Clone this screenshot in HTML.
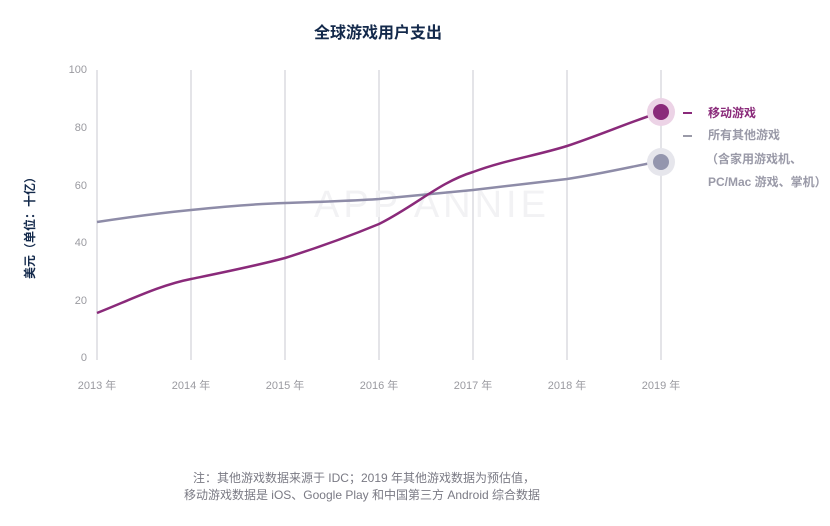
<!DOCTYPE html>
<html><head><meta charset="utf-8"><style>
body{margin:0;background:#fff;width:830px;height:521px;overflow:hidden;font-family:"Liberation Sans","Noto Sans CJK SC",sans-serif}
</style></head><body>
<svg width="830" height="521" xmlns="http://www.w3.org/2000/svg" style="font-family:'Liberation Sans','Noto Sans CJK SC',sans-serif">
<text x="378" y="38" text-anchor="middle" font-size="16" font-weight="bold" fill="#13294b">全球游戏用户支出</text>
<g stroke="#dcdce0" stroke-width="1.5">
<line x1="97" y1="70" x2="97" y2="360"/><line x1="191" y1="70" x2="191" y2="360"/><line x1="285" y1="70" x2="285" y2="360"/><line x1="379" y1="70" x2="379" y2="360"/><line x1="473" y1="70" x2="473" y2="360"/><line x1="567" y1="70" x2="567" y2="360"/><line x1="661" y1="70" x2="661" y2="360"/>
</g>
<g font-size="11" fill="#9a9aa0" text-anchor="end">
<text x="87" y="73">100</text><text x="87" y="131">80</text><text x="87" y="189">60</text><text x="87" y="246">40</text><text x="87" y="304">20</text><text x="87" y="361">0</text>
</g>
<g font-size="11" fill="#9a9aa0" text-anchor="middle">
<text x="97" y="389">2013 年</text><text x="191" y="389">2014 年</text><text x="285" y="389">2015 年</text><text x="379" y="389">2016 年</text><text x="473" y="389">2017 年</text><text x="567" y="389">2018 年</text><text x="661" y="389">2019 年</text>
</g>
<text transform="translate(34,225) rotate(-90)" text-anchor="middle" font-size="12" font-weight="bold" fill="#13294b">美元（单位：十亿）</text>
<text x="432" y="217" text-anchor="middle" font-size="38" fill="#f2f2f4" letter-spacing="4">APP ANNIE</text>
<path d="M97,222 C130,217 160,213 191,210 C220,207 250,204 285,203 C315,202 350,201 379,199 C410,196 440,193 473,190 C505,186 535,183 567,179 C600,174 630,167 661,161" fill="none" stroke="#8e8ca8" stroke-width="2.5"/>
<path d="M97,313 C130,300 160,285 191,279 C225,272 255,266 285,258 C320,247 350,236 379,224 C415,206 440,182 473,172 C505,160 535,156 567,146 C600,135 630,122 661,112" fill="none" stroke="#8a2a7a" stroke-width="2.5"/>
<circle cx="661" cy="112" r="14" fill="#ecd3e6"/><circle cx="661" cy="112" r="8" fill="#8a2a7a"/>
<circle cx="661" cy="162" r="14" fill="#e6e6ec"/><circle cx="661" cy="162" r="8" fill="#9496ae"/>
<line x1="683" y1="113" x2="692" y2="113" stroke="#8a2a7a" stroke-width="2"/>
<line x1="683" y1="136" x2="692" y2="136" stroke="#9a9aa8" stroke-width="2"/>
<text x="708" y="117" font-size="12" font-weight="bold" fill="#8a2a7a">移动游戏</text>
<g font-size="12" font-weight="bold" fill="#9a9aa8">
<text x="708" y="139">所有其他游戏</text>
<text x="706" y="163">（含家用游戏机、</text>
<text x="708" y="186">PC/Mac 游戏、掌机）</text>
</g>
<g font-size="12" fill="#7a7a84" text-anchor="middle">
<text x="364" y="482">注：其他游戏数据来源于 IDC；2019 年其他游戏数据为预估值，</text>
<text x="362" y="499">移动游戏数据是 iOS、Google Play 和中国第三方 Android 综合数据</text>
</g>
</svg>
</body></html>
